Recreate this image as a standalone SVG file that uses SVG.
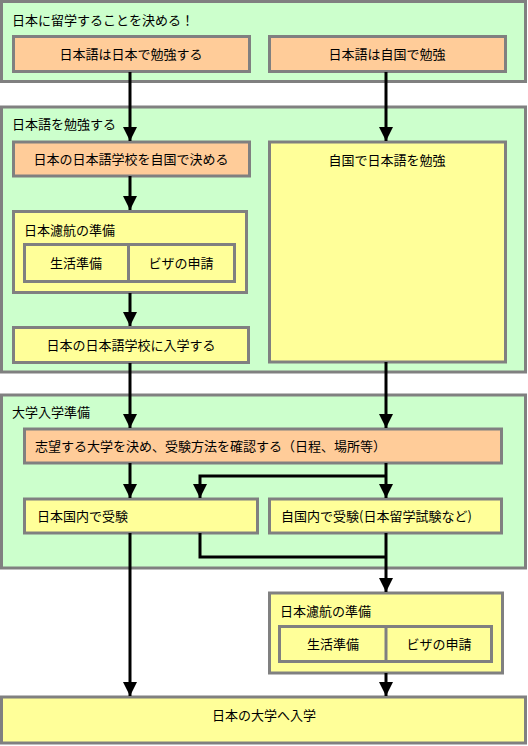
<svg xmlns="http://www.w3.org/2000/svg" width="528" height="746" viewBox="0 0 528 746">
<style>
.sec{fill:#ccffcc;stroke:#808080;stroke-width:3}
.org{fill:#ffcc99;stroke:#808080;stroke-width:3}
.yel{fill:#ffff99;stroke:#808080;stroke-width:3}
text{font-family:"Noto Sans CJK JP","Noto Sans CJK SC",sans-serif;font-size:13px;fill:#000}
.c{text-anchor:middle}
.ln{fill:none;stroke:#000;stroke-width:3}
</style>
<defs>
<marker id="ah" markerUnits="userSpaceOnUse" markerWidth="16" markerHeight="16" viewBox="0 0 16 16" refX="15" refY="8" orient="auto">
<path d="M1,1 L15,8 L1,15 Z" fill="#000"/>
</marker>
</defs>
<rect width="528" height="746" fill="#ffffff"/>
<g id="sec1">
<rect class="sec" x="1.5" y="1.5" width="524" height="80"/>
<text x="12" y="24.5">日本に留学することを決める！</text>
</g>
<g id="sec2">
<rect class="sec" x="1.5" y="107" width="524" height="265"/>
<text x="12" y="129">日本語を勉強する</text>
</g>
<g id="sec3">
<rect class="sec" x="1.5" y="395" width="524" height="173"/>
<text x="12" y="417">大学入学準備</text>
</g>
<g id="n1">
<rect class="org" x="13.5" y="36.5" width="236" height="35"/>
<text class="c" x="131" y="58.5">日本語は日本で勉強する</text>
</g>
<g id="n2">
<rect class="org" x="269.5" y="36.5" width="236" height="35"/>
<text class="c" x="387" y="58.5">日本語は自国で勉強</text>
</g>
<g id="n3">
<rect class="org" x="13.5" y="142" width="236" height="34"/>
<text class="c" x="131" y="163.5">日本の日本語学校を自国で決める</text>
</g>
<g id="n4">
<rect class="yel" x="13.5" y="211.5" width="233" height="81"/>
<text x="24" y="234.5">日本濾航の準備</text>
<rect class="yel" x="24.5" y="244.5" width="210" height="37"/>
<line x1="128.5" y1="244.5" x2="128.5" y2="281.5" stroke="#808080" stroke-width="3"/>
<text class="c" x="76" y="267.5">生活準備</text>
<text class="c" x="181" y="267.5">ビザの申請</text>
</g>
<g id="n5">
<rect class="yel" x="13.5" y="327.5" width="235" height="35"/>
<text class="c" x="131" y="349.5">日本の日本語学校に入学する</text>
</g>
<g id="n6">
<rect class="yel" x="269.5" y="142" width="236" height="220"/>
<text class="c" x="387" y="164.5">自国で日本語を勉強</text>
</g>
<g id="n7">
<rect class="org" x="24.5" y="429" width="477" height="34"/>
<text x="35" y="450.5">志望する大学を決め、受験方法を確認する（日程、場所等）</text>
</g>
<g id="n8">
<rect class="yel" x="24.5" y="499" width="233" height="34"/>
<text x="37" y="520.5">日本国内で受験</text>
</g>
<g id="n9">
<rect class="yel" x="269.5" y="499" width="232" height="34"/>
<text x="281" y="520.5">自国内で受験(日本留学試験など)</text>
</g>
<g id="n10">
<rect class="yel" x="269.5" y="593" width="233" height="80"/>
<text x="280" y="616">日本濾航の準備</text>
<rect class="yel" x="279.5" y="626.5" width="212" height="35"/>
<line x1="386" y1="626.5" x2="386" y2="661.5" stroke="#808080" stroke-width="3"/>
<text class="c" x="333" y="648.5">生活準備</text>
<text class="c" x="439" y="648.5">ビザの申請</text>
</g>
<g id="n11">
<rect class="yel" x="1.5" y="697" width="524" height="46"/>
<text class="c" x="264" y="720">日本の大学へ入学</text>
</g>
<g id="connectors">
<line class="ln" x1="130" y1="72" x2="130" y2="141" marker-end="url(#ah)"/>
<line class="ln" x1="386" y1="72" x2="386" y2="141" marker-end="url(#ah)"/>
<line class="ln" x1="130" y1="176" x2="130" y2="210" marker-end="url(#ah)"/>
<line class="ln" x1="130" y1="293" x2="130" y2="326" marker-end="url(#ah)"/>
<line class="ln" x1="130" y1="363" x2="130" y2="428" marker-end="url(#ah)"/>
<line class="ln" x1="386" y1="362" x2="386" y2="428" marker-end="url(#ah)"/>
<line class="ln" x1="130" y1="463" x2="130" y2="498" marker-end="url(#ah)"/>
<line class="ln" x1="386" y1="463" x2="386" y2="498" marker-end="url(#ah)"/>
<polyline class="ln" points="386,476 200,476 200,498" marker-end="url(#ah)"/>
<polyline class="ln" points="200,533 200,557 386,557"/>
<line class="ln" x1="386" y1="533" x2="386" y2="592" marker-end="url(#ah)"/>
<line class="ln" x1="386" y1="673" x2="386" y2="696" marker-end="url(#ah)"/>
<line class="ln" x1="130" y1="533" x2="130" y2="696" marker-end="url(#ah)"/>
</g>
</svg>
